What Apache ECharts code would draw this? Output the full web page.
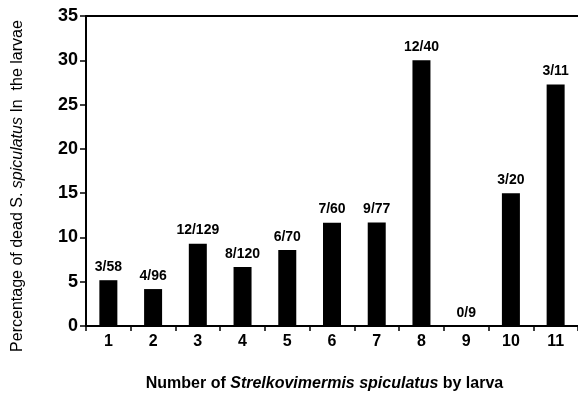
<!DOCTYPE html>
<html>
<head>
<meta charset="utf-8">
<script src="https://cdn.jsdelivr.net/npm/echarts@6/dist/echarts.min.js"></script>
<style>
  html, body { margin: 0; padding: 0; background: #fff; }
  #chart { width: 578px; height: 411px; }
</style>
</head>
<body>
<div id="chart"></div>
<script>
  // larva groups on the x axis
  const categories = ['1', '2', '3', '4', '5', '6', '7', '8', '9', '10', '11']
  // percentage of dead S. spiculatus
  const percentDead = [5.17, 4.17, 9.30, 6.67, 8.57, 11.67, 11.69, 30.0, 0, 15.0, 27.27]
  // dead / total labels above each bar
  const ratioLabels = ['3/58', '4/96', '12/129', '8/120', '6/70', '7/60', '9/77', '12/40', '0/9', '3/20', '3/11']
  const yTicks = [0, 5, 10, 15, 20, 25, 30, 35]

  const chart = echarts.init(document.getElementById('chart'))
  const font = 'Liberation Sans, Arial, sans-serif'

  const option = {
    animation: false,
    grid: { left: 86, top: 16, right: -5, bottom: 85 },
    xAxis: [
      {
        type: 'category',
        data: categories,
        position: 'bottom',
        axisLine: { lineStyle: { color: '#000', width: 2 } },
        axisTick: { show: true, length: 5, lineStyle: { color: '#000', width: 1.5 } },
        axisLabel: { color: '#000', fontFamily: font, fontWeight: 'bold', fontSize: 16, margin: 8 },
        name: '{n|Number of }{i|Strelkovimermis spiculatus}{n| by larva}',
        nameLocation: 'middle',
        nameGap: 50,
        nameTextStyle: {
          padding: [0, 15, 0, 0],
          rich: {
            n: { fontFamily: font, fontWeight: 'bold', fontSize: 16, color: '#000' },
            i: { fontFamily: font, fontWeight: 'bold', fontStyle: 'italic', fontSize: 16, color: '#000' }
          }
        }
      },
      {
        type: 'category',
        data: categories,
        position: 'top',
        axisLine: { lineStyle: { color: '#000', width: 2 } },
        axisTick: { show: false },
        axisLabel: { show: false }
      }
    ],
    yAxis: {
      type: 'value',
      min: yTicks[0],
      max: yTicks[yTicks.length - 1],
      interval: 5,
      axisLine: { show: true, lineStyle: { color: '#000', width: 2 } },
      axisTick: { show: true, length: 6, lineStyle: { color: '#000', width: 1.5 } },
      splitLine: { show: false },
      axisLabel: { color: '#000', fontFamily: font, fontWeight: 'bold', fontSize: 18, margin: 8 },
      name: '{n|Percentage of dead S. }{i|spiculatus}{n| In  the larvae}',
      nameLocation: 'middle',
      nameGap: 60,
      nameTextStyle: {
        padding: [0, 30, 0, 0],
        rich: {
          n: { fontFamily: font, fontSize: 16, color: '#000' },
          i: { fontFamily: font, fontStyle: 'italic', fontSize: 16, color: '#000' }
        }
      }
    },
    series: [
      {
        type: 'bar',
        data: percentDead,
        barWidth: 18,
        itemStyle: { color: '#000' },
        label: {
          show: true,
          position: 'top',
          distance: 6,
          color: '#000',
          fontFamily: font,
          fontWeight: 'bold',
          fontSize: 14,
          formatter: (p) => ratioLabels[p.dataIndex]
        }
      }
    ]
  }
  chart.setOption(option)
</script>
</body>
</html>
